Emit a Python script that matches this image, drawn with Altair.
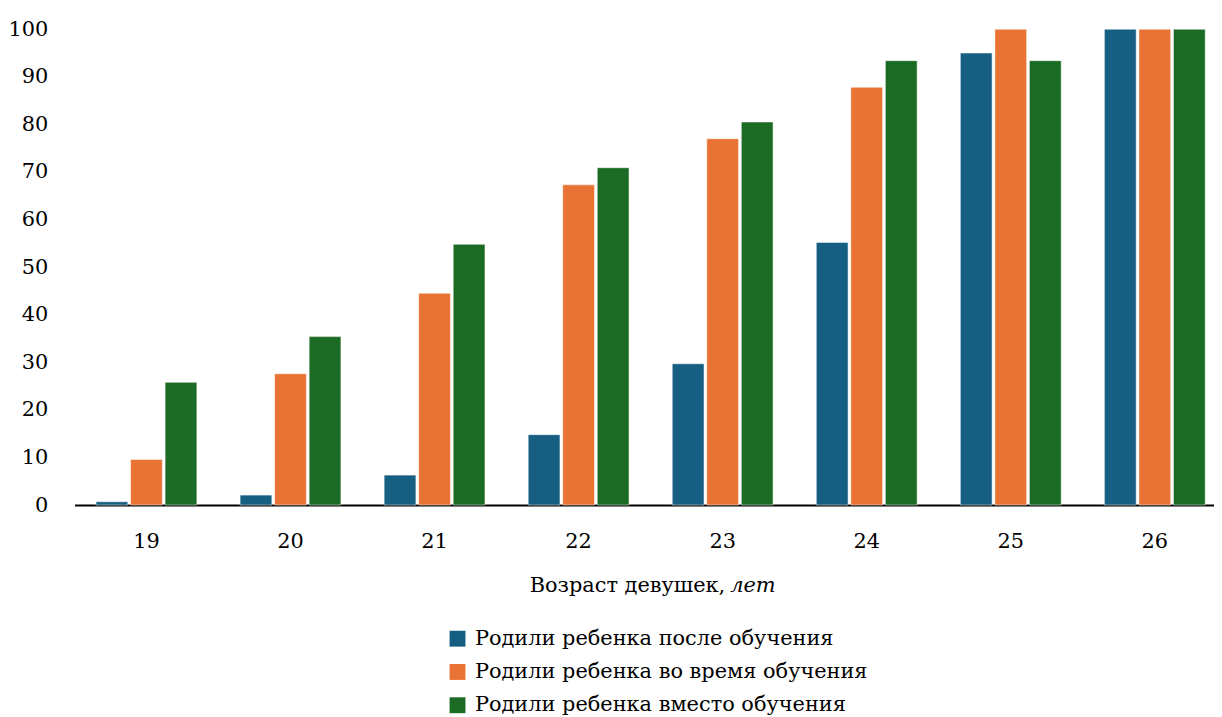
import altair as alt
import pandas as pd

ages = ["19", "20", "21", "22", "23", "24", "25", "26"]
series = ["Родили ребенка после обучения",
          "Родили ребенка во время обучения",
          "Родили ребенка вместо обучения"]
after_vals = [0.7, 2.1, 6.3, 14.8, 29.7, 55.2, 95.0, 100.0]
during_vals = [9.6, 27.6, 44.5, 67.3, 77.0, 87.8, 100.0, 100.0]
instead_vals = [25.8, 35.4, 54.8, 70.9, 80.5, 93.4, 93.4, 100.0]
colors = ["#175f82", "#e87335", "#1c6b25"]
y_ticks = [0, 10, 20, 30, 40, 50, 60, 70, 80, 90, 100]

rows = []
for vals, s in zip([after_vals, during_vals, instead_vals], series):
    for a, v in zip(ages, vals):
        rows.append({"age": a, "series": s, "value": v})
df = pd.DataFrame(rows)

FONT = "DejaVu Serif"
FS = 21

bars = alt.Chart(df).mark_bar(stroke="white", strokeWidth=1, strokeOpacity=0.5).encode(
    x=alt.X("age:N", sort=ages,
            scale=alt.Scale(paddingInner=0.3, paddingOuter=0.105, align=0.71),
            axis=alt.Axis(title=None, labelAngle=0, ticks=False, domainColor="black",
                          domainWidth=2, labelPadding=26, labelFont=FONT,
                          labelFontSize=FS, labelColor="black")),
    xOffset=alt.XOffset("series:N", sort=series,
                        scale=alt.Scale(paddingInner=0.08, paddingOuter=0)),
    y=alt.Y("value:Q", scale=alt.Scale(domain=[0, 100], nice=False),
            axis=alt.Axis(title=None, values=y_ticks, domain=False, ticks=False,
                          grid=False, labelPadding=27, labelFont=FONT,
                          labelFontSize=FS, labelColor="black")),
    color=alt.Color("series:N", sort=series,
                    scale=alt.Scale(domain=series, range=colors),
                    legend=alt.Legend(title=None, orient="none", legendX=375, legendY=603,
                                      symbolType="square", symbolSize=256,
                                      symbolStrokeWidth=0, labelFont=FONT,
                                      labelFontSize=FS, labelColor="black",
                                      labelOffset=7, rowPadding=11.5, labelLimit=600)),
)

title_main = alt.Chart(pd.DataFrame({"t": ["Возраст девушек,"]})).mark_text(
    font=FONT, fontSize=FS, align="right", baseline="alphabetic", color="black"
).encode(text="t:N", x=alt.value(655), y=alt.value(567))

title_it = alt.Chart(pd.DataFrame({"t": ["лет"]})).mark_text(
    font=FONT, fontSize=FS, fontStyle="italic", align="left", baseline="alphabetic",
    color="black"
).encode(text="t:N", x=alt.value(660), y=alt.value(567))

chart = alt.layer(bars, title_main, title_it).properties(
    width=1147, height=479,
    autosize=alt.AutoSizeParams(type="none"),
    padding={"left": 67, "top": 19, "right": 0, "bottom": 215},
).configure_view(stroke=None)

chart.save("out.html", embed_options={"renderer": "svg", "actions": False})
